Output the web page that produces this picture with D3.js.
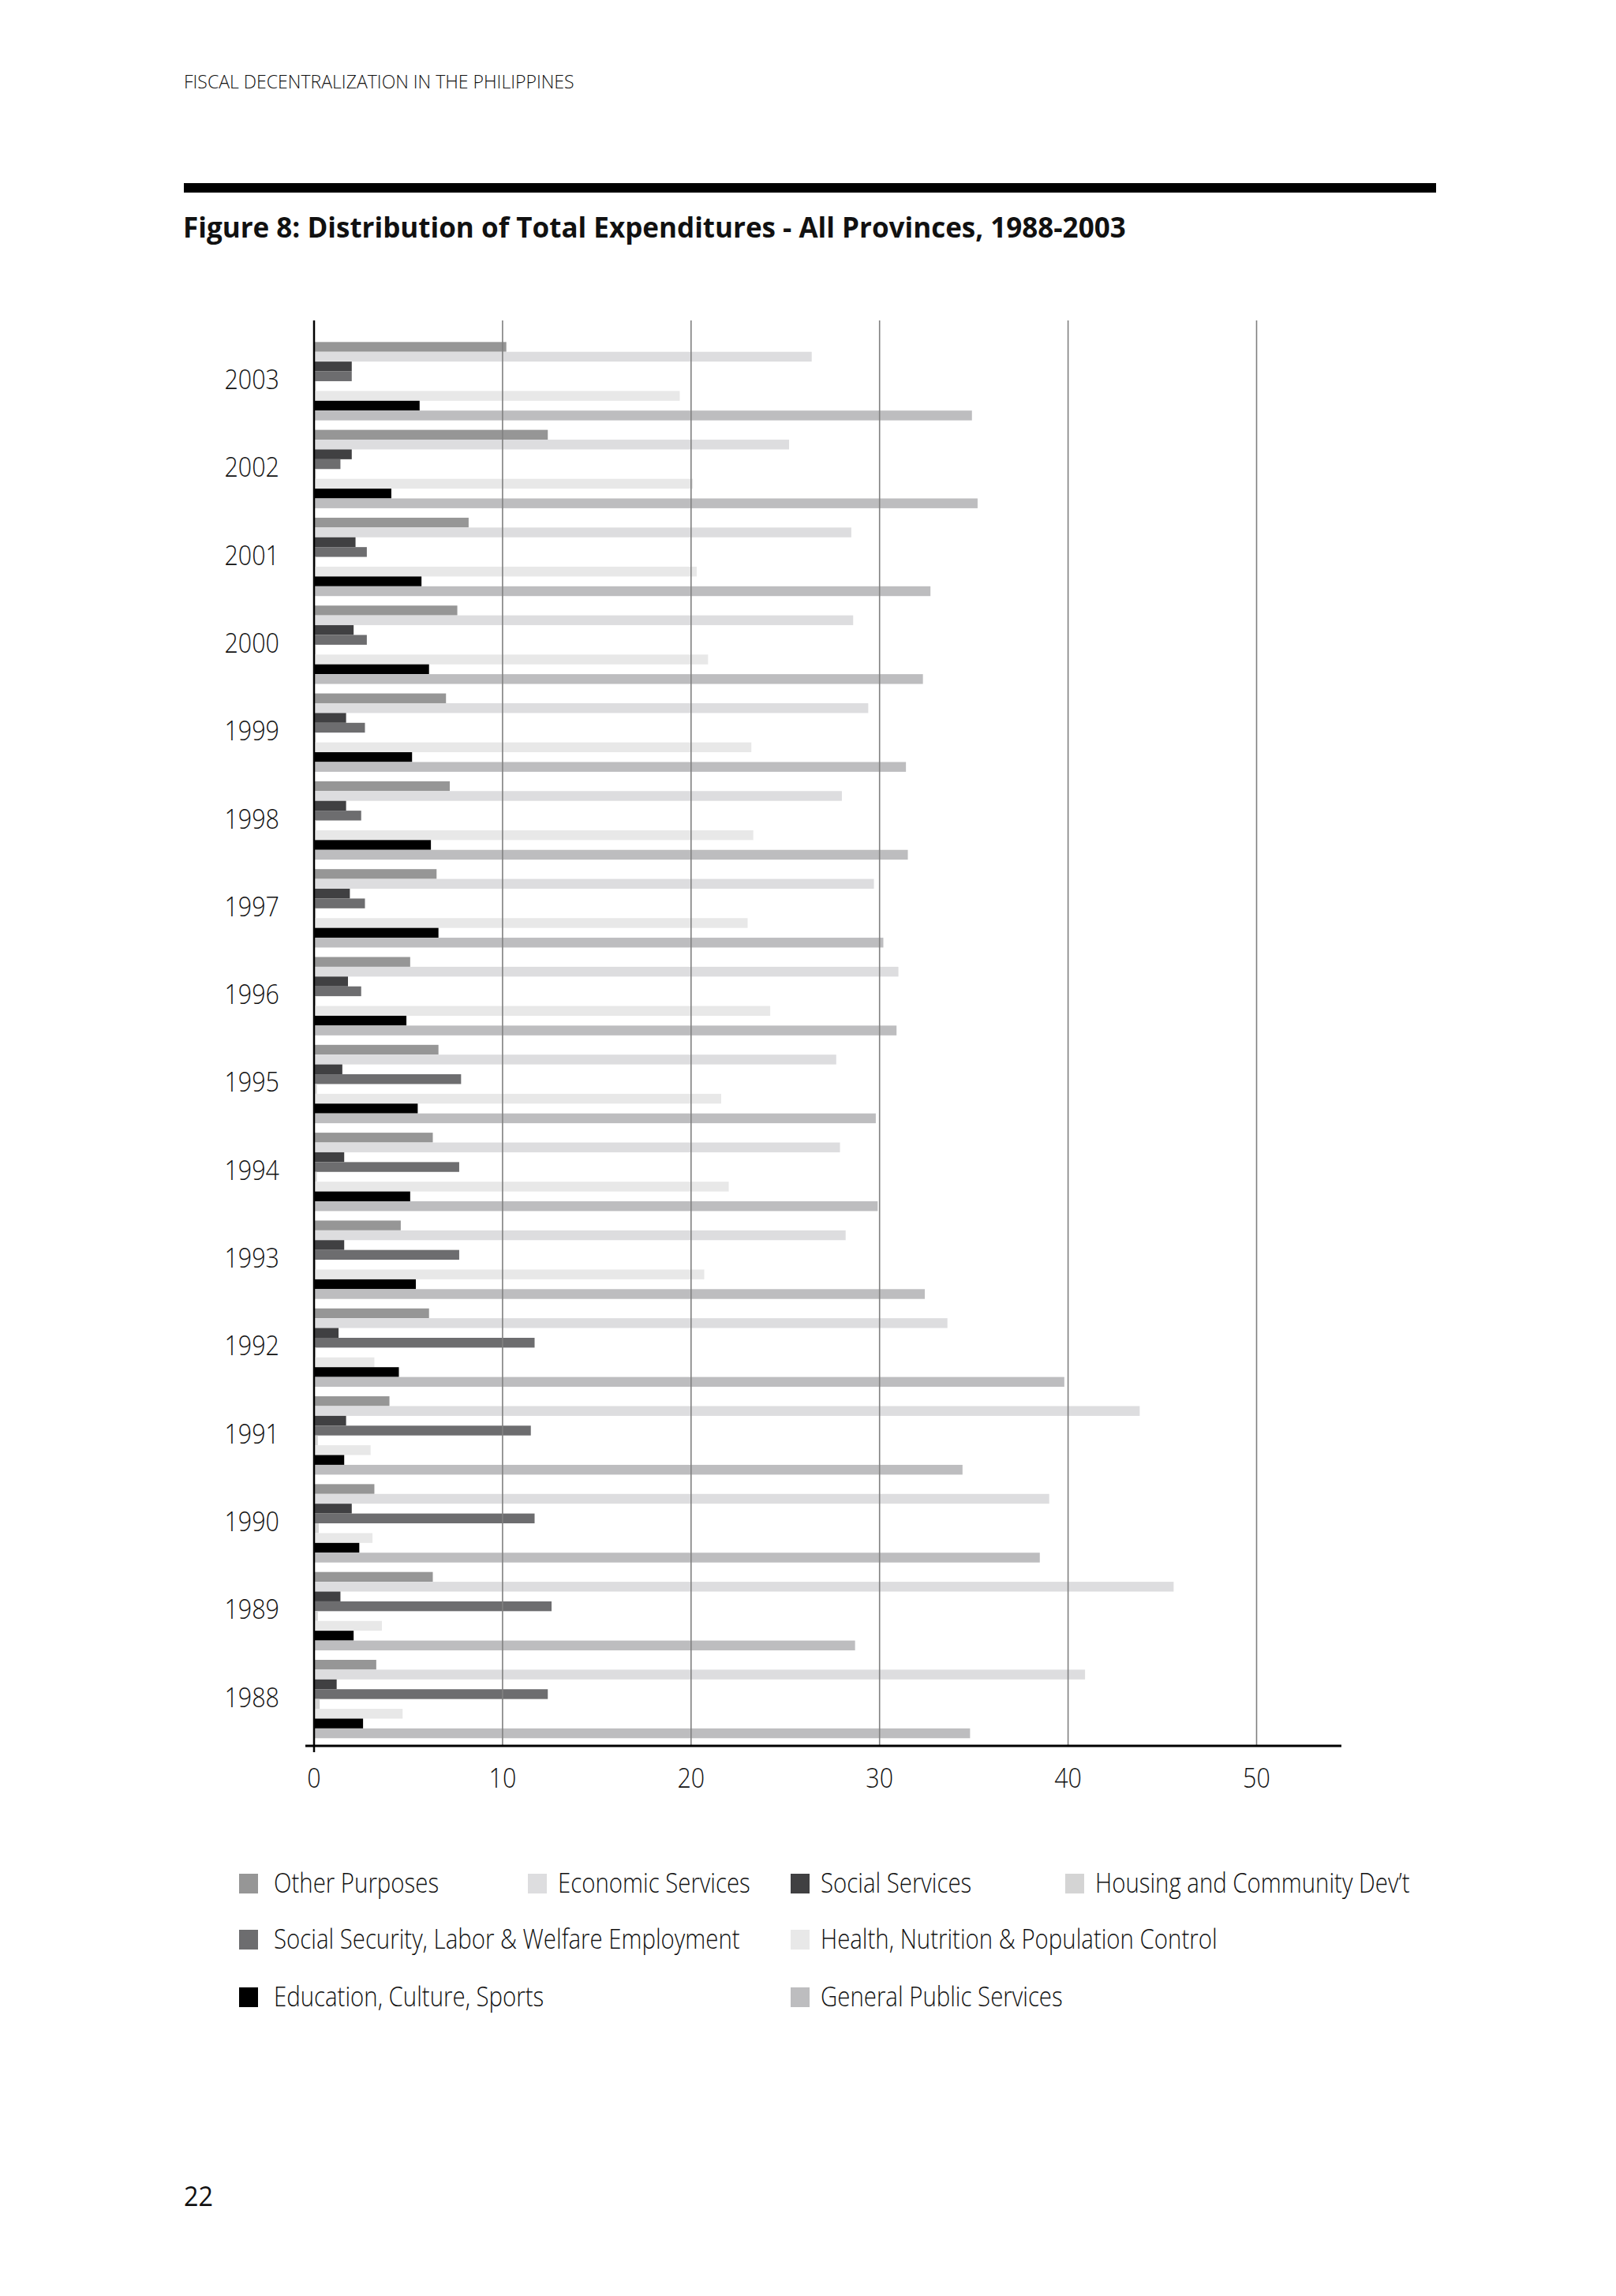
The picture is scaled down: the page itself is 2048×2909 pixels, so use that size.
<!DOCTYPE html>
<html>
<head>
<meta charset="utf-8">
<script src="https://cdn.jsdelivr.net/npm/d3@7"></script>
<style>
  body { margin: 0; background: #fff; }
  text { font-family: "Open Sans", "Noto Sans", sans-serif; }
</style>
</head>
<body>
<script>
// years, top to bottom as drawn
const years = ["2003", "2002", "2001", "2000", "1999", "1998", "1997", "1996",
               "1995", "1994", "1993", "1992", "1991", "1990", "1989", "1988"];

const otherPurposes    = [10.2, 12.4, 8.2, 7.6, 7.0, 7.2, 6.5, 5.1, 6.6, 6.3, 4.6, 6.1, 4.0, 3.2, 6.3, 3.3];
const economicServices = [26.4, 25.2, 28.5, 28.6, 29.4, 28.0, 29.7, 31.0, 27.7, 27.9, 28.2, 33.6, 43.8, 39.0, 45.6, 40.9];
const socialServices   = [2.0, 2.0, 2.2, 2.1, 1.7, 1.7, 1.9, 1.8, 1.5, 1.6, 1.6, 1.3, 1.7, 2.0, 1.4, 1.2];
const socialSecurity   = [2.0, 1.4, 2.8, 2.8, 2.7, 2.5, 2.7, 2.5, 7.8, 7.7, 7.7, 11.7, 11.5, 11.7, 12.6, 12.4];
const housing          = [0.1, 0.1, 0.1, 0.1, 0.1, 0.1, 0.1, 0.1, 0.15, 0.15, 0.1, 0.1, 0.2, 0.25, 0.2, 0.3];
const health           = [19.4, 20.1, 20.3, 20.9, 23.2, 23.3, 23.0, 24.2, 21.6, 22.0, 20.7, 3.2, 3.0, 3.1, 3.6, 4.7];
const education        = [5.6, 4.1, 5.7, 6.1, 5.2, 6.2, 6.6, 4.9, 5.5, 5.1, 5.4, 4.5, 1.6, 2.4, 2.1, 2.6];
const generalPublic    = [34.9, 35.2, 32.7, 32.3, 31.4, 31.5, 30.2, 30.9, 29.8, 29.9, 32.4, 39.8, 34.4, 38.5, 28.7, 34.8];

// bar order inside each year, top to bottom
const seriesNames = ["Other Purposes", "Economic Services", "Social Services",
                     "Social Security, Labor & Welfare Employment", "Housing and Community Dev\u2019t",
                     "Health, Nutrition & Population Control", "Education, Culture, Sports",
                     "General Public Services"];
const seriesValues = [otherPurposes, economicServices, socialServices, socialSecurity,
                      housing, health, education, generalPublic];
const seriesColors = ["#969696", "#dddddf", "#404042", "#6d6d6f", "#d4d4d4", "#e8e8e8", "#000000", "#bdbdbf"];

const xTicks = [0, 10, 20, 30, 40, 50];

var svg = d3.select("body")
            .append("svg")
            .attr("width", 2048)
            .attr("height", 2909);

svg.append("rect").attr("width", 2048).attr("height", 2909).attr("fill", "#fff");

// text drawn narrower, like the condensed face of the page
function label(x, y, str, size, k, anchor, weight) {
  return svg.append("text")
    .attr("transform", "translate(" + x + "," + y + ") scale(" + k + ",1)")
    .attr("text-anchor", anchor || "start")
    .attr("font-size", size)
    .attr("font-weight", weight || 300)
    .attr("fill", "#111")
    .text(str);
}

// page furniture
label(233, 112, "FISCAL DECENTRALIZATION IN THE PHILIPPINES", 24, 0.96);
svg.append("rect").attr("x", 233).attr("y", 232).attr("width", 1587).attr("height", 12).attr("fill", "#000");
label(232, 301, "Figure 8: Distribution of Total Expenditures - All Provinces, 1988-2003", 35, 1.0, "start", 700);
label(233, 2795, "22", 34, 0.95, "start", 400);

// scales
const x = d3.scaleLinear().domain([0, 54.5]).range([398, 1700]);
const y = d3.scaleBand().domain(years).range([427.3, 2208.3]).paddingInner(0.108).paddingOuter(0.054);
const ySub = d3.scaleBand().domain(d3.range(seriesNames.length)).range([0, y.bandwidth()]);

const plotTop = 406, plotBase = 2212;

// bars
seriesValues.forEach(function (vals, i) {
  svg.append("g")
    .selectAll("rect")
    .data(vals)
    .join("rect")
    .attr("x", x(0))
    .attr("y", (d, j) => y(years[j]) + ySub(i))
    .attr("width", d => x(d) - x(0))
    .attr("height", ySub.bandwidth())
    .attr("fill", seriesColors[i]);
});

// gridlines over the bars
svg.append("g")
  .selectAll("line")
  .data(xTicks.slice(1))
  .join("line")
  .attr("x1", d => x(d)).attr("x2", d => x(d))
  .attr("y1", plotTop).attr("y2", plotBase)
  .attr("stroke", "#808080")
  .attr("stroke-width", 1.6);

// axes
svg.append("line")
  .attr("x1", x(0)).attr("x2", x(0))
  .attr("y1", plotTop).attr("y2", plotBase + 8)
  .attr("stroke", "#000").attr("stroke-width", 2.5);

svg.append("line")
  .attr("x1", x(0) - 11).attr("x2", x.range()[1])
  .attr("y1", plotBase).attr("y2", plotBase)
  .attr("stroke", "#000").attr("stroke-width", 3);

xTicks.forEach(function (t) {
  label(x(t), 2265, String(t), 35, 0.87, "middle");
});

years.forEach(function (yr) {
  label(354, y(yr) + y.bandwidth() / 2 + 10, yr, 35, 0.87, "end");
});

// legend
const legendCols = [303, 669, 1002, 1350];
const legendRows = [2374, 2445, 2518];
const legendSlots = [[0, 0], [1, 0], [2, 0], [0, 1], [3, 0], [2, 1], [0, 2], [2, 2]];

seriesNames.forEach(function (name, i) {
  const cx = legendCols[legendSlots[i][0]];
  const cy = legendRows[legendSlots[i][1]];
  svg.append("rect")
    .attr("x", cx).attr("y", cy)
    .attr("width", 24).attr("height", 25)
    .attr("fill", seriesColors[i]);
  label(cx + (legendSlots[i][0] === 0 ? 44 : 38), cy + 24, name, 35, 0.84);
});
</script>
</body>
</html>
